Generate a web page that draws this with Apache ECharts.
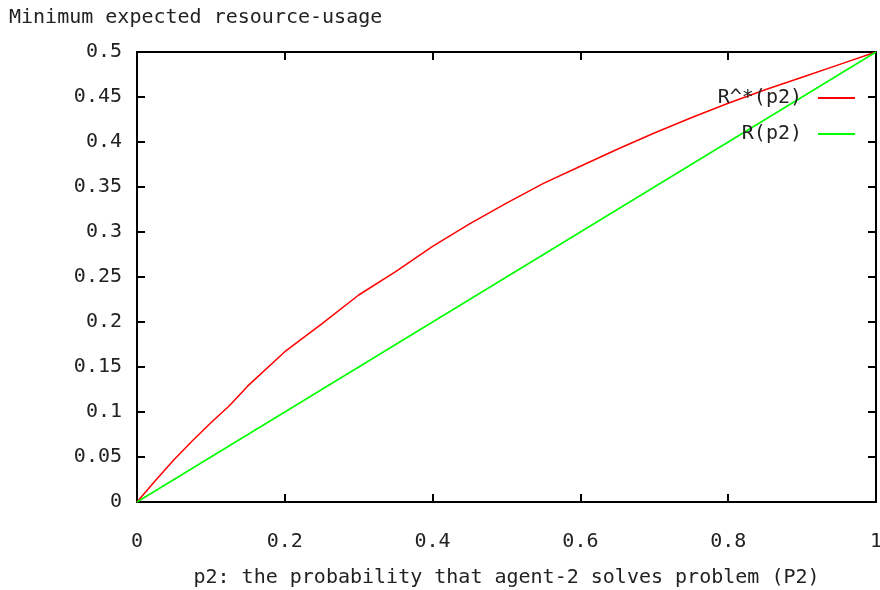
<!DOCTYPE html>
<html>
<head>
<meta charset="utf-8">
<script src="https://cdn.jsdelivr.net/npm/echarts@6/dist/echarts.min.js"></script>
<style>
  html, body { margin: 0; padding: 0; background: #fff; }
  #chart { width: 880px; height: 590px; }
</style>
</head>
<body>
<div id="chart"></div>
<script>
// Probability p2 that agent-2 solves problem P2
const p2Values = [0, 0.025, 0.05, 0.075, 0.1, 0.125, 0.15, 0.2, 0.25, 0.3, 0.35, 0.4, 0.45,
                  0.5, 0.55, 0.6, 0.65, 0.7, 0.75, 0.8, 0.85, 0.9, 0.95, 1];
// Minimum expected resource usage R^*(p2)
const rStarValues = [0, 0.024, 0.047, 0.068, 0.088, 0.107, 0.129, 0.167, 0.198, 0.230, 0.256, 0.284, 0.309,
                     0.332, 0.354, 0.373, 0.392, 0.410, 0.427, 0.443, 0.458, 0.472, 0.486, 0.5];
// Resource usage R(p2)
const rValues = [0, 0.0125, 0.025, 0.0375, 0.05, 0.0625, 0.075, 0.1, 0.125, 0.15, 0.175, 0.2, 0.225,
                 0.25, 0.275, 0.3, 0.325, 0.35, 0.375, 0.4, 0.425, 0.45, 0.475, 0.5];
const seriesNames = ['R^*(p2)', 'R(p2)'];
const titleText = 'Minimum expected resource-usage';
const xAxisTitle = 'p2: the probability that agent-2 solves problem (P2)';

const FONT = 'DejaVu Sans Mono';
const FS = 20;
const TXT = '#222';

const pairs = (ys) => p2Values.map((x, i) => [x, ys[i]]);

const chart = echarts.init(document.getElementById('chart'), null, { renderer: 'canvas' });

const tickStyle = { show: true, inside: true, length: 8, lineStyle: { color: '#000', width: 2 } };
const lineStyleAxis = { show: true, onZero: false, lineStyle: { color: '#000', width: 2 } };

chart.setOption({
  animation: false,
  backgroundColor: '#fff',
  title: {
    text: titleText,
    left: 4, top: 3,
    textStyle: { fontFamily: FONT, fontSize: FS, fontWeight: 'normal', color: TXT }
  },
  legend: {
    orient: 'vertical',
    right: 20, top: 83,
    align: 'right',
    itemWidth: 37, itemHeight: 2, itemGap: 16,
    icon: 'rect',
    textStyle: { fontFamily: FONT, fontSize: FS, color: TXT, padding: [0, 11, 0, 0] },
    data: seriesNames
  },
  grid: { left: 137, right: 4, top: 52, bottom: 88, show: false, outerBoundsMode: 'none', containLabel: false },
  xAxis: [{
    type: 'value', min: 0, max: 1, interval: 0.2, position: 'bottom',
    name: xAxisTitle, nameLocation: 'middle', nameGap: 66,
    nameTextStyle: { fontFamily: FONT, fontSize: FS, color: TXT },
    axisLine: lineStyleAxis, axisTick: tickStyle,
    axisLabel: { fontFamily: FONT, fontSize: FS, color: TXT, margin: 30 },
    splitLine: { show: false }
  }, {
    type: 'value', min: 0, max: 1, interval: 0.2, position: 'top',
    axisLine: lineStyleAxis, axisTick: tickStyle,
    axisLabel: { show: false }, splitLine: { show: false }
  }],
  yAxis: [{
    type: 'value', min: 0, max: 0.5, interval: 0.05, position: 'left',
    axisLine: lineStyleAxis, axisTick: tickStyle,
    axisLabel: { fontFamily: FONT, fontSize: FS, color: TXT, margin: 15 },
    splitLine: { show: false }
  }, {
    type: 'value', min: 0, max: 0.5, interval: 0.05, position: 'right',
    axisLine: lineStyleAxis, axisTick: tickStyle,
    axisLabel: { show: false }, splitLine: { show: false }
  }],
  series: [{
    name: seriesNames[0], type: 'line', data: pairs(rStarValues),
    showSymbol: false, symbol: 'none', color: '#ff0000',
    lineStyle: { color: '#ff0000', width: 1.5 }
  }, {
    name: seriesNames[1], type: 'line', data: pairs(rValues),
    showSymbol: false, symbol: 'none', color: '#00ff00',
    lineStyle: { color: '#00ff00', width: 1.5 }
  }]
});
</script>
</body>
</html>
